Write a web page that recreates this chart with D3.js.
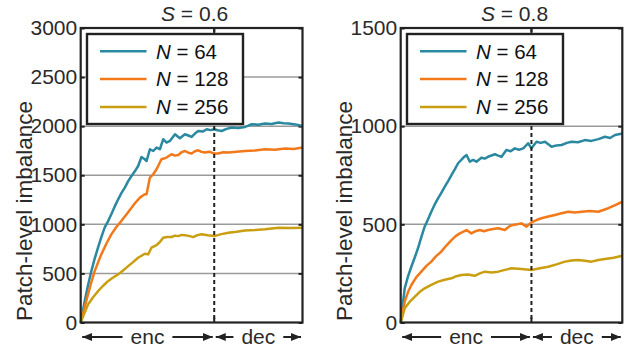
<!DOCTYPE html>
<html><head><meta charset="utf-8">
<script src="https://cdn.jsdelivr.net/npm/d3@7"></script>
<style>
html,body{margin:0;padding:0;background:#fff;}
svg{display:block;font-family:"Liberation Sans",Arial,Helvetica,sans-serif;}
</style></head>
<body><svg id="c" width="624" height="347"></svg>
<script>
// ---- data (x = progress through sequence, 0..100; enc ends at boundary) ----
const seriesNames = ["64", "128", "256"];
const seriesColors = ["#2a89a0", "#f2791a", "#c99e10"];
const panelTitles = ["0.6", "0.8"];
const yMax = [3000, 1500];
const yTicks0 = [0, 500, 1000, 1500, 2000, 2500, 3000];
const yTicks1 = [0, 500, 1000, 1500];
const boundary = [60.2, 59.0];

const s06_n64 = [[0,0],[1.8,217],[3.3,380],[4.8,523],[6.3,650],[7.8,762],[9.3,870],[10.8,966],[12.3,1030],[13.8,1102],[15.3,1180],[16.9,1255],[18.4,1320],[19.9,1374],[21.4,1440],[22.9,1492],[24.4,1540],[25.9,1594],[27.4,1686],[28.9,1663],[29.7,1645],[31.2,1765],[32.7,1747],[34.2,1782],[35.7,1765],[37.2,1867],[38.7,1833],[40.2,1849],[42.5,1918],[44.7,1877],[47.0,1918],[48.5,1905],[50.0,1890],[51.5,1925],[53.0,1951],[55.0,1945],[56.8,1969],[58.5,1960],[60.2,1969],[61.8,1958],[63.5,1951],[65.8,1972],[68.1,1986],[71.0,1980],[74.1,1992],[75.6,2005],[77.1,2020],[80.0,2015],[83.1,2027],[86.0,2022],[89.2,2037],[91.5,2030],[93.7,2027],[96.8,2018],[100,2003]];
const s06_n128 = [[0,0],[1.6,140],[3.3,286],[4.8,410],[6.3,523],[7.8,610],[9.3,694],[11.5,800],[13.8,898],[16.0,970],[18.3,1033],[20.6,1100],[22.9,1170],[24.8,1225],[26.7,1272],[28.9,1306],[29.7,1306],[31.2,1476],[32.7,1510],[34.2,1561],[36.4,1663],[38.7,1680],[40.9,1714],[42.5,1700],[44.0,1707],[45.5,1735],[47.0,1747],[48.5,1730],[50.0,1721],[51.5,1745],[53.0,1754],[54.5,1738],[56.0,1731],[58.0,1740],[60.2,1721],[62.0,1721],[64.3,1735],[66.6,1731],[70.3,1740],[74.1,1747],[78.5,1752],[83.1,1765],[87.5,1760],[92.2,1772],[96.0,1768],[100,1782]];
const s06_n256 = [[0,0],[1.5,85],[3.3,184],[5.5,255],[7.8,319],[10.0,372],[12.3,421],[14.6,458],[16.9,490],[19.1,530],[21.4,574],[23.6,615],[25.9,660],[27.4,680],[28.9,700],[30.4,694],[31.9,762],[34.2,788],[35.7,820],[37.2,864],[39.0,872],[40.9,870],[42.5,885],[44.0,880],[45.5,892],[47.0,890],[48.8,882],[50.7,870],[52.6,890],[54.5,898],[57.3,888],[60.2,880],[63.4,900],[66.6,915],[70.3,925],[74.1,938],[78.6,942],[83.1,949],[86.2,958],[89.2,966],[94.5,962],[100,966]];

const s08_n64 = [[0,0],[1.8,174],[3.3,235],[4.8,284],[6.3,330],[7.8,378],[9.3,435],[10.8,488],[12.3,525],[13.8,564],[15.3,600],[16.9,633],[18.4,662],[19.9,692],[21.4,720],[22.9,751],[24.4,780],[25.9,811],[28.2,839],[29.7,853],[31.2,819],[32.7,828],[34.2,819],[36.4,839],[37.9,835],[39.4,844],[42.5,857],[44.0,850],[45.5,844],[47.7,879],[49.6,872],[51.5,887],[53.4,880],[55.3,887],[57.5,913],[59.0,887],[61.3,921],[63.2,915],[65.1,921],[68.1,895],[70.3,902],[72.6,904],[75.0,915],[77.1,921],[80.0,918],[83.1,929],[86.0,925],[89.2,934],[92.2,946],[94.5,940],[96.7,955],[100,963]];
const s08_n128 = [[0,0],[1.8,106],[3.3,155],[4.8,191],[7.0,230],[9.3,259],[11.5,287],[13.8,310],[16.0,338],[18.3,361],[20.6,392],[22.9,420],[24.8,440],[26.7,454],[29.7,471],[31.9,454],[33.8,465],[35.7,471],[37.5,465],[39.4,471],[41.7,476],[44.0,480],[47.0,471],[48.8,488],[50.7,497],[52.6,500],[54.5,505],[56.8,488],[59.0,510],[61.3,522],[63.5,531],[66.6,540],[69.6,548],[72.6,556],[75.6,564],[78.6,560],[81.6,564],[85.4,568],[89.2,564],[93.7,582],[96.8,598],[100,615]];
const s08_n256 = [[0,0],[1.8,72],[4.0,105],[6.3,131],[8.5,155],[10.8,174],[13.8,192],[16.9,208],[19.9,218],[22.9,225],[25.1,236],[27.4,242],[30.4,244],[33.4,238],[35.7,250],[38.0,259],[41.0,255],[44.0,259],[47.0,268],[50.0,276],[54.5,272],[59.0,267],[62.8,276],[66.6,284],[70.3,296],[74.1,310],[77.1,316],[80.1,318],[83.1,314],[86.1,310],[89.2,318],[92.2,323],[96.1,330],[100,340]];

const panelSeries = [[s06_n64, s06_n128, s06_n256], [s08_n64, s08_n128, s08_n256]];
const panelTicks = [yTicks0, yTicks1];

// ---- layout ----
const panels = [
  {x0: 80.7, x1: 302.5, labelX: 32, legX: 87},
  {x0: 400.7, x1: 622.3, labelX: 352, legX: 407}
];
const plotTop = 28, plotBottom = 322.5;
const ink = "#222";
const txt = "#2a2a2a";
const svg = d3.select("#c");
const defs = svg.append("defs");
defs.append("marker").attr("id","ah").attr("viewBox","0 0 10 8").attr("refX",10).attr("refY",4)
  .attr("markerWidth",10).attr("markerHeight",8).attr("markerUnits","userSpaceOnUse").attr("orient","auto")
  .append("path").attr("d","M0,0L10,4L0,8Z").attr("fill",ink);

panels.forEach((p, pi) => {
  const g = svg.append("g");
  const x = d3.scaleLinear().domain([0, 100]).range([p.x0, p.x1]);
  const y = d3.scaleLinear().domain([0, yMax[pi]]).range([plotBottom, plotTop]);
  const ticks = panelTicks[pi];

  // grid
  g.append("g").selectAll("line").data(ticks.filter(t => t > 0 && t < yMax[pi])).join("line")
    .attr("x1", p.x0).attr("x2", p.x1).attr("y1", d => y(d)).attr("y2", d => y(d))
    .attr("stroke", "#9a9a9a").attr("stroke-width", 1.5);

  // y axis (labels + inward ticks)
  const ax = g.append("g").attr("transform", `translate(${p.x0},0)`)
    .call(d3.axisLeft(y).tickValues(ticks).tickSize(-4).tickPadding(6).tickFormat(d3.format("d")));
  ax.select(".domain").remove();
  ax.selectAll(".tick line").attr("stroke", ink).attr("stroke-width", 2);
  ax.selectAll(".tick text").attr("font-size", 21).attr("fill", txt)
    .attr("font-family", "Liberation Sans, Arial, sans-serif").attr("x", -3.5);
  const axr = g.append("g").attr("transform", `translate(${p.x1},0)`)
    .call(d3.axisRight(y).tickValues(ticks).tickSize(-4).tickFormat(""));
  axr.select(".domain").remove();
  axr.selectAll(".tick line").attr("stroke", ink).attr("stroke-width", 2);

  // lines
  const line = d3.line().x(d => x(d[0])).y(d => y(d[1]));
  panelSeries[pi].forEach((s, si) => {
    g.append("path").datum(s).attr("d", line).attr("fill", "none")
      .attr("stroke", seriesColors[si]).attr("stroke-width", 2.5).attr("stroke-linejoin", "round");
  });

  // boundary dashed line
  const xb = x(boundary[pi]);
  g.append("line").attr("x1", xb).attr("x2", xb).attr("y1", plotTop).attr("y2", plotBottom)
    .attr("stroke", ink).attr("stroke-width", 2).attr("stroke-dasharray", "4,3");
  g.append("line").attr("x1", xb).attr("x2", xb).attr("y1", plotTop).attr("y2", plotTop + 5).attr("stroke", ink).attr("stroke-width", 2);
  g.append("line").attr("x1", xb).attr("x2", xb).attr("y1", plotBottom - 5).attr("y2", plotBottom).attr("stroke", ink).attr("stroke-width", 2);

  // frame
  g.append("rect").attr("x", p.x0).attr("y", plotTop).attr("width", p.x1 - p.x0).attr("height", plotBottom - plotTop)
    .attr("fill", "none").attr("stroke", ink).attr("stroke-width", 2.2);

  // legend
  const lg = g.append("g");
  lg.append("rect").attr("x", p.legX).attr("y", 34).attr("width", 156).attr("height", 90)
    .attr("fill", "#fff").attr("stroke", ink).attr("stroke-width", 2.4);
  seriesNames.forEach((n, si) => {
    const ly = 51.3 + si * 27.8;
    lg.append("line").attr("x1", p.legX + 13).attr("x2", p.legX + 59.5).attr("y1", ly).attr("y2", ly)
      .attr("stroke", seriesColors[si]).attr("stroke-width", 2.5);
    const t = lg.append("text").attr("x", p.legX + 69).attr("y", ly + 7.3).attr("font-size", 20.5).attr("fill", "#111");
    t.append("tspan").attr("font-style", "italic").text("N");
    t.append("tspan").text(" = " + n);
  });

  // title
  const tt = g.append("text").attr("x", (p.x0 + p.x1) / 2 + 3).attr("y", 20.5).attr("text-anchor", "middle")
    .attr("font-size", 21).attr("fill", txt);
  tt.append("tspan").attr("font-style", "italic").text("S");
  tt.append("tspan").text(" = " + panelTitles[pi]);

  // y label
  g.append("text").attr("transform", `translate(${p.labelX},211) rotate(-90)`).attr("text-anchor", "middle")
    .attr("font-size", 22.5).attr("fill", txt).text("Patch-level imbalance");

  // enc / dec arrows
  const ay = 337;
  [["enc", p.x0, xb], ["dec", xb, p.x1]].forEach(([lab, a, b]) => {
    const mid = (a + b) / 2;
    const tx = g.append("text").attr("x", mid).attr("y", 343.5).attr("text-anchor", "middle")
      .attr("font-size", 21).attr("fill", txt).text(lab);
    const w = tx.node().getComputedTextLength();
    const gap = 8;
    g.append("line").attr("x1", mid - w / 2 - gap).attr("x2", a + 1.5).attr("y1", ay).attr("y2", ay)
      .attr("stroke", ink).attr("stroke-width", 2).attr("marker-end", "url(#ah)");
    g.append("line").attr("x1", mid + w / 2 + gap).attr("x2", b - 1.5).attr("y1", ay).attr("y2", ay)
      .attr("stroke", ink).attr("stroke-width", 2).attr("marker-end", "url(#ah)");
  });
});
</script></body></html>
